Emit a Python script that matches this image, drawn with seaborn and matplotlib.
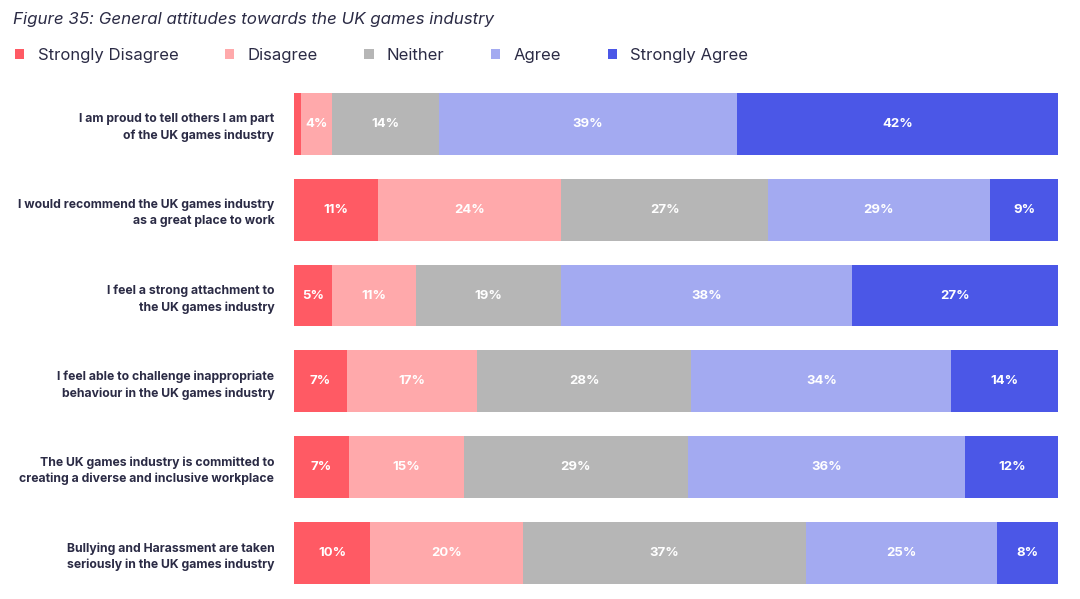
import numpy as np
import pandas as pd
import matplotlib
matplotlib.use("Agg")
import matplotlib.pyplot as plt
import seaborn as sns
from matplotlib.patches import Patch

# data
statements = [
    "I am proud to tell others I am part\nof the UK games industry",
    "I would recommend the UK games industry\nas a great place to work",
    "I feel a strong attachment to\nthe UK games industry",
    "I feel able to challenge inappropriate\nbehaviour in the UK games industry",
    "The UK games industry is committed to\ncreating a diverse and inclusive workplace",
    "Bullying and Harassment are taken\nseriously in the UK games industry",
]
levels = ["Strongly Disagree", "Disagree", "Neither", "Agree", "Strongly Agree"]
strongly_disagree = [1.0, 11.0, 5.0, 7.0, 7.2, 10.0]
disagree = [4.0, 24.0, 11.0, 17.0, 15.0, 20.0]
neither = [14.0, 27.0, 19.0, 28.0, 29.3, 37.0]
agree = [39.0, 29.0, 38.0, 34.0, 36.3, 25.0]
strongly_agree = [42.0, 9.0, 27.0, 14.0, 12.2, 8.0]
colors = ["#FF5A64", "#FFA9AB", "#B6B6B6", "#A3AAF1", "#4B57E7"]

sns.set_theme(style="white")
plt.rcParams["font.family"] = ["Inter", "DejaVu Sans"]
ink = "#2B2B45"

df = pd.DataFrame({"statement": statements,
                   "Strongly Disagree": strongly_disagree,
                   "Disagree": disagree,
                   "Neither": neither,
                   "Agree": agree,
                   "Strongly Agree": strongly_agree})
cum = df[levels].cumsum(axis=1)

fig = plt.figure(figsize=(10.8, 5.99), dpi=100)
ax = fig.add_axes([0.272, 0.005, 0.708, 0.86])

# stacked bars: draw cumulative totals from the outside in
for lev, col in reversed(list(zip(levels, colors))):
    sns.barplot(x=cum[lev], y=df["statement"], orient="h", color=col,
                width=0.72, ax=ax, saturation=1, linewidth=0)

# segment labels
for i in range(len(statements)):
    start = 0
    for lev in levels:
        v = df.loc[i, lev]
        if v >= 3:
            ax.text(start + v / 2, i, f"{round(v):.0f}%", ha="center", va="center",
                    color="white", fontsize=9.5, fontweight="bold")
        start += v

ax.set_xlim(0, 100)
ax.set_ylim(5.5, -0.5)
ax.set_xlabel("")
ax.set_ylabel("")
ax.set_xticks([])
ax.tick_params(axis="y", length=0, pad=14)
for lab in ax.get_yticklabels():
    lab.set_fontsize(8.8)
    lab.set_fontweight("bold")
    lab.set_color(ink)
    lab.set_multialignment("right")
    lab.set_linespacing(1.45)
sns.despine(ax=ax, left=True, bottom=True)

fig.text(0.012, 0.968, "Figure 35: General attitudes towards the UK games industry",
         fontsize=12.2, style="italic", color=ink, va="center")

handles = [Patch(facecolor=c, edgecolor="none") for c in colors]
fig.legend(handles, levels, ncol=5, loc="center left", bbox_to_anchor=(0.0, 0.907),
           frameon=False, fontsize=12, handlelength=0.55, handleheight=0.55,
           handletextpad=0.8, columnspacing=2.8, labelcolor=ink)

fig.savefig("out.png", dpi=100)
